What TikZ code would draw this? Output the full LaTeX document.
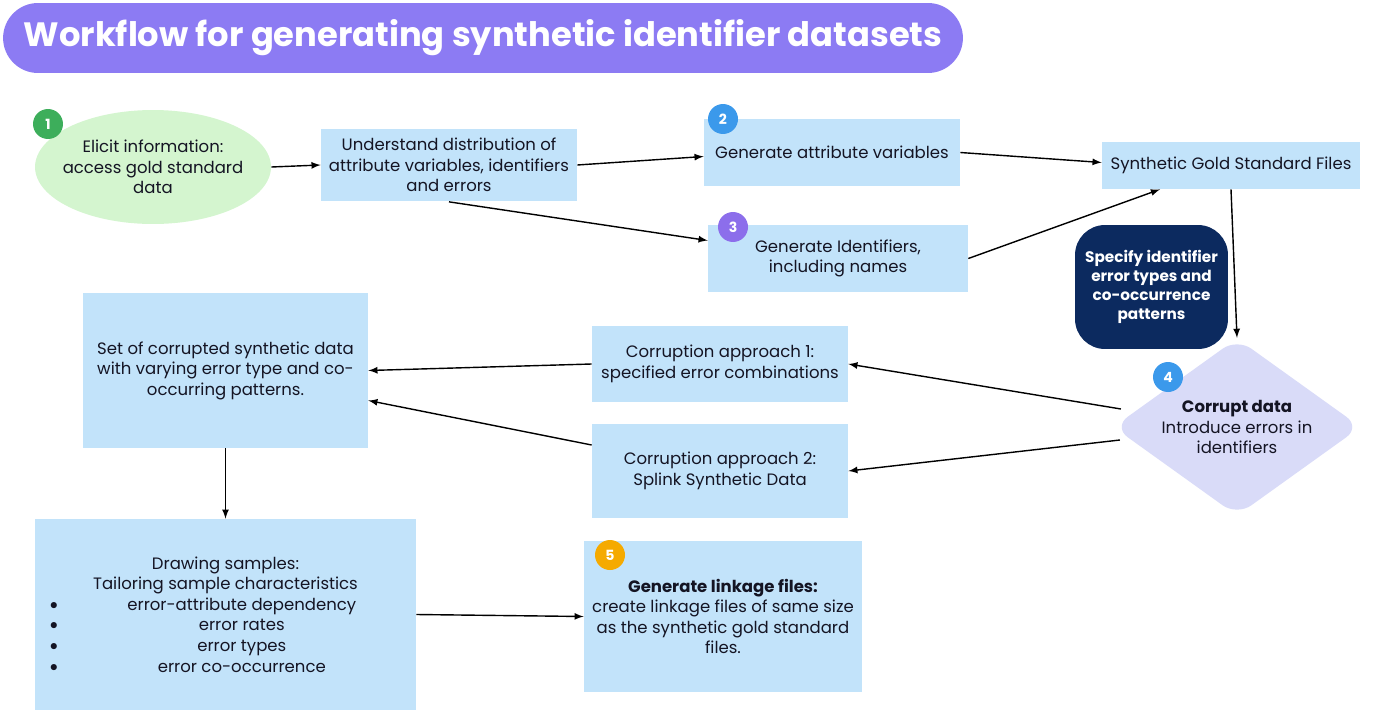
\documentclass[tikz,border=0pt]{standalone}
\usepackage{fontspec}
\setmainfont{Poppins}
\newfontfamily\titlefont{Poppins}
\newfontfamily\bulfont{Lato}
\usetikzlibrary{shapes.geometric}

\definecolor{boxblue}{RGB}{194,227,250}
\definecolor{elgreen}{RGB}{212,245,207}
\definecolor{lavender}{RGB}{217,219,248}
\definecolor{navy}{RGB}{12,42,95}
\definecolor{titlepurple}{RGB}{140,123,243}
\definecolor{ink}{RGB}{20,20,35}
\definecolor{bgreen}{RGB}{61,174,91}
\definecolor{bblue}{RGB}{59,153,235}
\definecolor{bpurple}{RGB}{140,110,235}
\definecolor{borange}{RGB}{245,170,0}

\begin{document}
\begin{tikzpicture}[
  x=0.02cm, y=-0.02cm,   % 1 unit = 1 px of the 1376 x 720 canvas
  >=latex,
  box/.style={fill=boxblue, align=center, text=ink, inner sep=2pt,
              font=\fontsize{9.4}{11.7}\selectfont},
  badge/.style={circle, minimum size=0.6cm, inner sep=0pt, text=white,
                font=\fontsize{8}{8}\selectfont\bfseries},
  flow/.style={->, line width=0.8pt, black},
]

\useasboundingbox (0,0) rectangle (1376,720);

% ── Title banner ──────────────────────────────────────────────────────────────
\node[fill=titlepurple, rounded corners=0.7cm, minimum width=19.2cm,
      minimum height=1.4cm, text=white,
      font=\titlefont\fontsize{19.2}{21}\selectfont\bfseries]
  (title) at (483,38) {Workflow for generating synthetic identifier datasets};

% ── Top row: elicit, understand, generate ────────────────────────────────────
\node[box, ellipse, fill=elgreen, inner xsep=-4pt, inner ysep=0pt,
      minimum width=4.72cm, minimum height=2.28cm]
  (elicit) at (153,167) {Elicit information:\\ access gold standard\\ data};
\node[box, minimum width=5.12cm, minimum height=1.46cm]
  (und) at (449,165) {Understand distribution of\\ attribute variables, identifiers\\ and errors};
\node[box, minimum width=5.12cm, minimum height=1.34cm]
  (genattr) at (832,152.5) {Generate attribute variables};
\node[box, minimum width=5.2cm, minimum height=1.34cm]
  (genid) at (838,258.5) {Generate Identifiers,\\ including names};
\node[box, minimum width=5.16cm, minimum height=0.94cm]
  (sgs) at (1231,165.5) {Synthetic Gold Standard Files};

% ── Error specification and corruption step ──────────────────────────────────
\node[fill=navy, rounded corners=0.6cm, minimum width=3.06cm, minimum height=2.48cm,
      align=center, text=white, font=\fontsize{8.7}{10.8}\selectfont\bfseries]
  (spec) at (1151.5,287) {Specify identifier\\ error types and\\ co-occurrence\\ patterns};
\node[box, diamond, aspect=1.4, fill=lavender, rounded corners=0.35cm, inner sep=0pt,
      minimum width=4.95cm, minimum height=3.55cm]
  (dia) at (1237,427) {\textbf{Corrupt data}\\ Introduce errors in\\ identifiers};

% ── Middle row: corruption approaches ────────────────────────────────────────
\node[box, minimum width=5.12cm, minimum height=1.52cm]
  (cor1) at (720,364) {Corruption approach 1:\\ specified error combinations};
\node[box, minimum width=5.12cm, minimum height=1.88cm]
  (cor2) at (720,471) {Corruption approach 2:\\ Splink Synthetic Data};
\node[box, minimum width=5.7cm, minimum height=3.1cm]
  (corrset) at (225.5,370.5) {Set of corrupted synthetic data\\ with varying error type and co-\\ occurring patterns.};

% ── Bottom row: sampling and linkage files ───────────────────────────────────
\newcommand{\bul}[1]{\hbox to 7.06cm{{\bulfont\textbullet}\hskip 0.46cm\hfil #1\hfil}}
\node[box, minimum width=7.62cm, minimum height=3.82cm]
  (draw) at (225.5,614.5) {Drawing samples:\\ Tailoring sample characteristics\\
    \bul{error-attribute dependency}\\ \bul{error rates}\\ \bul{error types}\\
    \bul{error co-occurrence}};
\node[box, minimum width=5.56cm, minimum height=3.02cm]
  (link) at (723,616.5) {\textbf{Generate linkage files:}\\ create linkage files of same size\\
    as the synthetic gold standard\\ files.};

% ── Step badges ──────────────────────────────────────────────────────────────
\node[badge, fill=bgreen]   (b1) at (48,124)   {1};
\node[badge, fill=bblue]    (b2) at (723,119)  {2};
\node[badge, fill=bpurple]  (b3) at (733,227)  {3};
\node[badge, fill=bblue]    (b4) at (1168,377) {4};
\node[badge, fill=borange]  (b5) at (610,555)  {5};

% ── Connectors ───────────────────────────────────────────────────────────────
\draw[flow] (elicit.east) -- (und.west);
\draw[flow] (und.east) -- ([shift={(0,4)}]genattr.west);
\draw[flow] (und.south) -- ([shift={(0,-18)}]genid.west);
\draw[flow] (genattr.east) -- ([shift={(0,-3)}]sgs.west);
\draw[flow] (genid.east) -- ([shift={(-71,0)}]sgs.south);
\draw[flow] (sgs.south) -- (dia.north);
\draw[flow] ([shift={(8,-18)}]dia.west) -- (cor1.east);
\draw[flow] ([shift={(7,13)}]dia.west) -- (cor2.east);
\draw[flow] (cor1.west) -- (corrset.east);
\draw[flow] ([shift={(0,-26)}]cor2.west) -- ([shift={(0,30)}]corrset.east);
\draw[flow] (corrset.south) -- (draw.north);
\draw[flow] (draw.east) -- (link.west);

\end{tikzpicture}
\end{document}
